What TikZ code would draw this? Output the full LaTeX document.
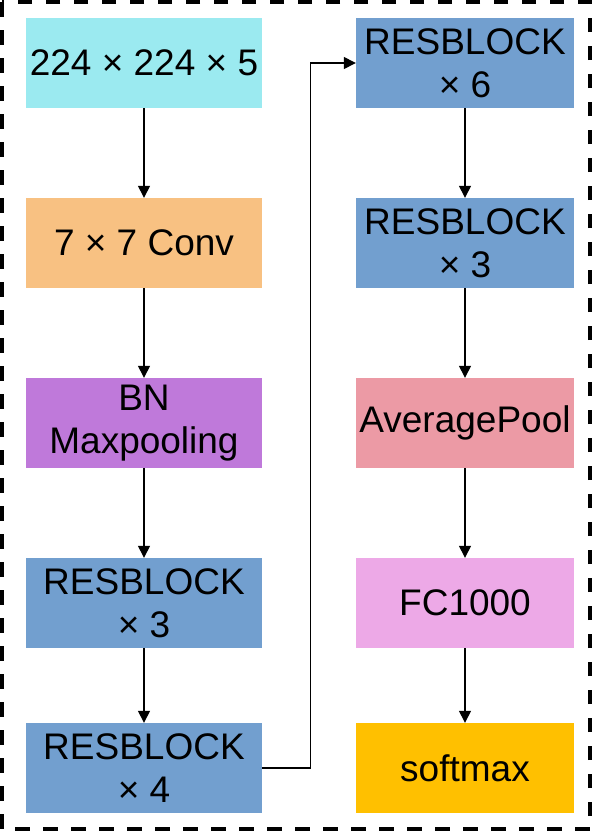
\documentclass[tikz,border=0pt]{standalone}
\usepackage{fontspec}
\setmainfont{Liberation Sans}
\usetikzlibrary{arrows.meta}
\definecolor{ccyan}{HTML}{9BEAF0}
\definecolor{corange}{HTML}{F8C182}
\definecolor{cpurple}{HTML}{BF79DA}
\definecolor{cblue}{HTML}{729FCF}
\definecolor{crose}{HTML}{EC9AA5}
\definecolor{cpink}{HTML}{EDA9E7}
\definecolor{cgold}{HTML}{FFC000}
\tikzset{
  blk/.style={inner sep=0pt, align=center, font=\fontsize{37}{43}\selectfont, text=black},
  lblk/.style={blk, minimum width=236pt, minimum height=90pt},
  rblk/.style={blk, minimum width=218pt, minimum height=90pt},
  arr/.style={line width=1.4pt, -{Triangle[width=12pt,length=12pt]}},
}
\begin{document}
\begin{tikzpicture}[x=1pt,y=-1pt]
\useasboundingbox (0,0) rectangle (595,836);
\fill[white] (0,0) rectangle (595,836);
\draw[line width=4pt, dash pattern=on 14.5pt off 13.5pt] (2,2) rectangle (590,829);
% left column
\node[lblk, fill=ccyan]   (l1) at (144,63)  {224 × 224 × 5};
\node[lblk, fill=corange] (l2) at (144,243) {7 × 7 Conv};
\node[lblk, fill=cpurple] (l3) at (144,423) {BN\\Maxpooling};
\node[lblk, fill=cblue]   (l4) at (144,603) {RESBLOCK\\× 3};
\node[lblk, fill=cblue]   (l5) at (144,768) {RESBLOCK\\× 4};
% right column
\node[rblk, fill=cblue]   (r1) at (465,63)  {RESBLOCK\\× 6};
\node[rblk, fill=cblue]   (r2) at (465,243) {RESBLOCK\\× 3};
\node[rblk, fill=crose]   (r3) at (465,423) {AveragePool};
\node[rblk, fill=cpink]   (r4) at (465,603) {FC1000};
\node[rblk, fill=cgold]   (r5) at (465,768) {softmax};
% connectors
\draw[arr] (l1) -- (l2);
\draw[arr] (l2) -- (l3);
\draw[arr] (l3) -- (l4);
\draw[arr] (l4) -- (l5);
\draw[arr] (l5.east) -- ++(48,0) |- (r1.west);
\draw[arr] (r1) -- (r2);
\draw[arr] (r2) -- (r3);
\draw[arr] (r3) -- (r4);
\draw[arr] (r4) -- (r5);
\end{tikzpicture}
\end{document}
